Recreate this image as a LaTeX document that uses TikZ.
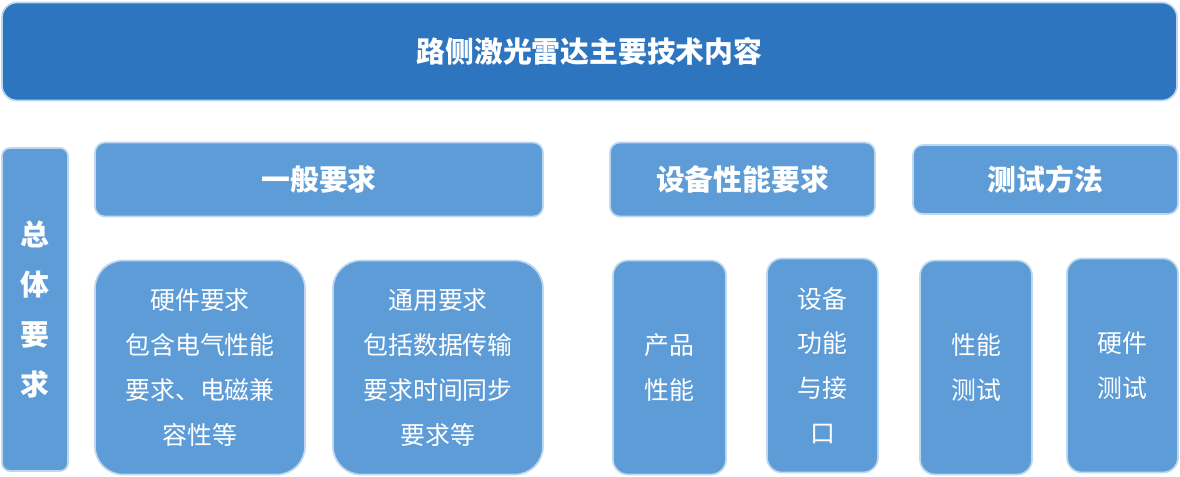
\documentclass[tikz,border=0pt]{standalone}
\usepackage{fontspec}
\newfontfamily\cjk{Noto Sans CJK SC}
\definecolor{topblue}{HTML}{2E75C0}
\definecolor{boxblue}{HTML}{5E9CD7}
\definecolor{rimblue}{HTML}{BDD7EE}

\begin{document}
\begin{tikzpicture}[x=0.025cm,y=-0.025cm,
  box/.style={draw=rimblue,line width=1.2pt,fill=boxblue,text=white,
    inner sep=0pt,align=center,rounded corners=#1},
  box/.default=0.25cm,
  headfont/.style={font=\cjk\fontsize{20.5}{24}\selectfont\bfseries},
  bodyfont/.style={font=\cjk\fontsize{17.7}{31.9}\selectfont}]
\def\px{0.025cm}
\useasboundingbox (0,0) rectangle (1180,477);

% title bar
\node[box=0.375cm,fill=topblue,headfont,minimum width=1175*\px,minimum height=98*\px]
  (title) at (589.5,51.5) {路侧激光雷达主要技术内容};

% left column
\node[box=0.2cm,minimum width=66*\px,minimum height=323*\px,
  font=\cjk\fontsize{20.5}{35.4}\selectfont\bfseries]
  (overall) at (35,309.5) {总\\体\\要\\求};

% headers
\node[box,headfont,minimum width=448*\px,minimum height=74*\px] (general) at (319,179.5) {一般要求};
\node[box,headfont,minimum width=265*\px,minimum height=74*\px] (device) at (742.5,179.5) {设备性能要求};
\node[box,headfont,minimum width=265*\px,minimum height=69*\px] (testing) at (1045.5,179.5) {测试方法};

% lower boxes
\node[box=0.7cm,bodyfont,minimum width=210*\px,minimum height=214*\px]
  (hardware) at (200,367.5) {硬件要求\\包含电气性能\\要求、电磁兼\\容性等};
\node[box=0.7cm,bodyfont,minimum width=210*\px,minimum height=214*\px]
  (common) at (438,367.5) {通用要求\\包括数据传输\\要求时间同步\\要求等};

\node[box=0.375cm,bodyfont,minimum width=113*\px,minimum height=214*\px]
  (product) at (669.5,367.5) {产品\\性能};
\node[box=0.375cm,bodyfont,minimum width=111*\px,minimum height=214*\px]
  (iface) at (822.5,365.5) {设备\\功能\\与接\\口};

\node[box=0.375cm,bodyfont,minimum width=112*\px,minimum height=214*\px]
  (perftest) at (976,367.5) {性能\\测试};
\node[box=0.375cm,bodyfont,minimum width=111*\px,minimum height=214*\px]
  (hwtest) at (1122.5,365.5) {硬件\\测试};

\end{tikzpicture}
\end{document}
